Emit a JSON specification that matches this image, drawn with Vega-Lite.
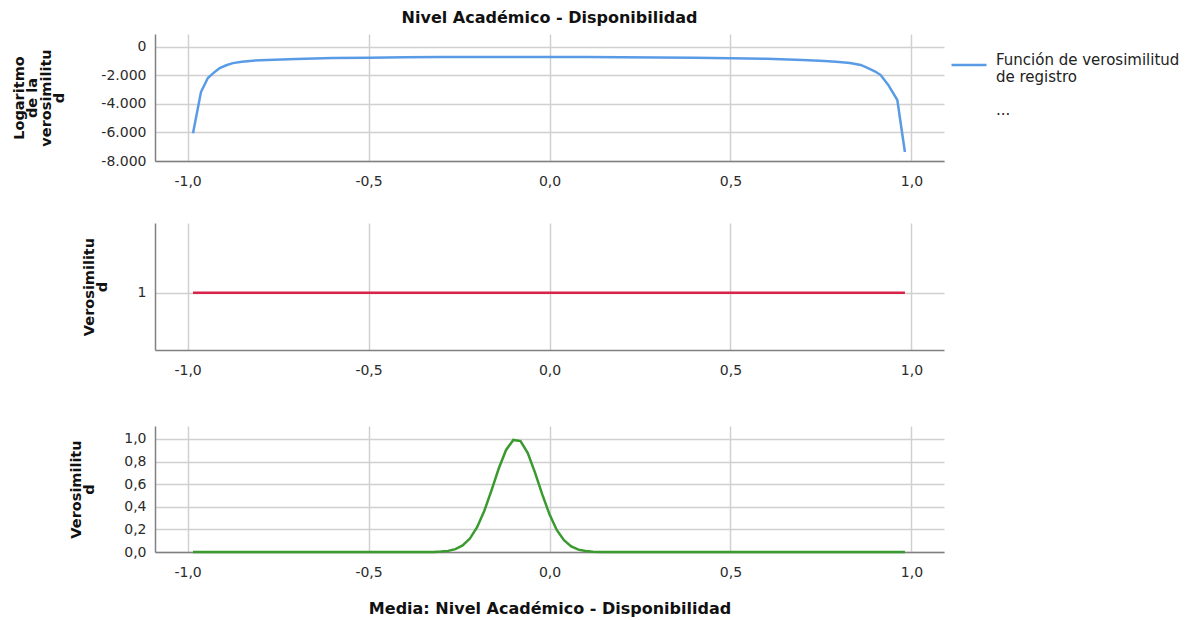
{
  "$schema": "https://vega.github.io/schema/vega-lite/v6.json",
  "padding": {"left": 5, "top": 10, "right": 3, "bottom": 3},
  "background": "white",
  "spacing": 35,
  "config": {
    "font": "DejaVu Sans",
    "view": {"stroke": null},
    "locale": {"number": {"decimal": ",", "thousands": ".", "grouping": [3], "currency": ["", " €"], "minus": "-"}},
    "axis": {
      "labelFont": "DejaVu Sans", "labelFontSize": 14, "labelColor": "#2b2b2b",
      "gridColor": "#d0d0d0", "gridWidth": 1.5, "domainColor": "#808080", "domainWidth": 1.5,
      "ticks": false, "tickSize": 0,
      "titleFont": "DejaVu Sans", "titleFontSize": 16, "titleFontWeight": "bold", "titleColor": "#111111"
    },
    "axisX": {"labelPadding": 13},
    "axisY": {"labelPadding": 9, "minExtent": 150, "titleFontSize": 14.5, "titleLineHeight": 13.5}
  },
  "vconcat": [
    {
      "width": 789, "height": 127,
      "title": {"text": "Nivel Académico - Disponibilidad", "frame": "group", "anchor": "middle", "font": "DejaVu Sans", "fontSize": 16, "fontWeight": "bold", "color": "#111111", "offset": 8},
      "data": {"values": [
        {"media": -0.985, "logver": -6050, "serie": "Función de verosimilitud de registro"},
        {"media": -0.963, "logver": -3160, "serie": "Función de verosimilitud de registro"},
        {"media": -0.944, "logver": -2180, "serie": "Función de verosimilitud de registro"},
        {"media": -0.925, "logver": -1750, "serie": "Función de verosimilitud de registro"},
        {"media": -0.911, "logver": -1480, "serie": "Función de verosimilitud de registro"},
        {"media": -0.893, "logver": -1280, "serie": "Función de verosimilitud de registro"},
        {"media": -0.875, "logver": -1130, "serie": "Función de verosimilitud de registro"},
        {"media": -0.85, "logver": -1030, "serie": "Función de verosimilitud de registro"},
        {"media": -0.82, "logver": -960, "serie": "Función de verosimilitud de registro"},
        {"media": -0.78, "logver": -910, "serie": "Función de verosimilitud de registro"},
        {"media": -0.7, "logver": -850, "serie": "Función de verosimilitud de registro"},
        {"media": -0.6, "logver": -780, "serie": "Función de verosimilitud de registro"},
        {"media": -0.5, "logver": -748, "serie": "Función de verosimilitud de registro"},
        {"media": -0.4, "logver": -726, "serie": "Función de verosimilitud de registro"},
        {"media": -0.3, "logver": -710, "serie": "Función de verosimilitud de registro"},
        {"media": -0.2, "logver": -700, "serie": "Función de verosimilitud de registro"},
        {"media": -0.1, "logver": -694, "serie": "Función de verosimilitud de registro"},
        {"media": 0.0, "logver": -696, "serie": "Función de verosimilitud de registro"},
        {"media": 0.1, "logver": -703, "serie": "Función de verosimilitud de registro"},
        {"media": 0.2, "logver": -714, "serie": "Función de verosimilitud de registro"},
        {"media": 0.3, "logver": -729, "serie": "Función de verosimilitud de registro"},
        {"media": 0.4, "logver": -752, "serie": "Función de verosimilitud de registro"},
        {"media": 0.5, "logver": -782, "serie": "Función de verosimilitud de registro"},
        {"media": 0.6, "logver": -832, "serie": "Función de verosimilitud de registro"},
        {"media": 0.7, "logver": -912, "serie": "Función de verosimilitud de registro"},
        {"media": 0.76, "logver": -985, "serie": "Función de verosimilitud de registro"},
        {"media": 0.8, "logver": -1050, "serie": "Función de verosimilitud de registro"},
        {"media": 0.83, "logver": -1120, "serie": "Función de verosimilitud de registro"},
        {"media": 0.86, "logver": -1260, "serie": "Función de verosimilitud de registro"},
        {"media": 0.88, "logver": -1480, "serie": "Función de verosimilitud de registro"},
        {"media": 0.9, "logver": -1720, "serie": "Función de verosimilitud de registro"},
        {"media": 0.915, "logver": -1970, "serie": "Función de verosimilitud de registro"},
        {"media": 0.936, "logver": -2660, "serie": "Función de verosimilitud de registro"},
        {"media": 0.961, "logver": -3720, "serie": "Función de verosimilitud de registro"},
        {"media": 0.982, "logver": -7370, "serie": "Función de verosimilitud de registro"}
      ]},
      "mark": {"type": "line", "strokeWidth": 2.5},
      "encoding": {
        "x": {"field": "media", "type": "quantitative", "scale": {"domain": [-1.09, 1.09], "nice": false, "zero": false},
              "axis": {"values": [-1, -0.5, 0, 0.5, 1], "format": ".1f", "title": null}},
        "y": {"field": "logver", "type": "quantitative", "scale": {"domain": [-8000, 912], "nice": false, "zero": false},
              "axis": {"values": [-8000, -6000, -4000, -2000, 0], "format": ",.0f",
                       "title": ["Logaritmo", "de la", "verosimilitu", "d"],
                       "titleAngle": 270, "titleBaseline": "bottom", "titleAlign": "center", "titleX": -129, "titleY": 63.5}},
        "color": {"field": "serie", "type": "nominal",
                  "scale": {"domain": ["Función de verosimilitud de registro", "..."], "range": ["#5a9be6", "transparent"]},
                  "legend": {"title": null, "orient": "none", "legendX": 795, "legendY": 12, "direction": "vertical", "padding": 0,
                             "symbolType": "stroke", "symbolSize": 1225, "symbolStrokeWidth": 2.5,
                             "labelFont": "DejaVu Sans", "labelFontSize": 15, "labelColor": "#222222", "labelLimit": 300,
                             "labelOffset": 8, "labelBaseline": "alphabetic", "rowPadding": 11,
                             "labelExpr": "datum.label == '...' ? '...' : ['Función de verosimilitud', 'de registro']"}}
      }
    },
    {
      "width": 789, "height": 127,
      "data": {"values": [
        {"media": -0.985, "ver": 1},
        {"media": -0.5, "ver": 1},
        {"media": 0.0, "ver": 1},
        {"media": 0.5, "ver": 1},
        {"media": 0.982, "ver": 1}
      ]},
      "mark": {"type": "line", "strokeWidth": 2.5, "color": "#d9234a"},
      "encoding": {
        "x": {"field": "media", "type": "quantitative", "scale": {"domain": [-1.09, 1.09], "nice": false, "zero": false},
              "axis": {"values": [-1, -0.5, 0, 0.5, 1], "format": ".1f", "title": null, "minExtent": 41}},
        "y": {"field": "ver", "type": "quantitative", "scale": {"domain": [0.55, 1.55], "nice": false, "zero": false},
              "axis": {"values": [1], "format": "d",
                       "title": ["Verosimilitu", "d"],
                       "titleAngle": 270, "titleBaseline": "bottom", "titleAlign": "center", "titleX": -59, "titleY": 63.5}}
      }
    },
    {
      "width": 789, "height": 126,
      "data": {"values": [
        {"media": -0.985, "ver": 0},
        {"media": -0.5, "ver": 0},
        {"media": -0.34, "ver": 0},
        {"media": -0.32, "ver": 0.001},
        {"media": -0.3, "ver": 0.004},
        {"media": -0.28, "ver": 0.01},
        {"media": -0.26, "ver": 0.025},
        {"media": -0.24, "ver": 0.058},
        {"media": -0.22, "ver": 0.119},
        {"media": -0.2, "ver": 0.219},
        {"media": -0.18, "ver": 0.365},
        {"media": -0.16, "ver": 0.548},
        {"media": -0.14, "ver": 0.741},
        {"media": -0.12, "ver": 0.903},
        {"media": -0.1, "ver": 0.992},
        {"media": -0.08, "ver": 0.981},
        {"media": -0.06, "ver": 0.875},
        {"media": -0.04, "ver": 0.703},
        {"media": -0.02, "ver": 0.51},
        {"media": 0.0, "ver": 0.333},
        {"media": 0.02, "ver": 0.195},
        {"media": 0.04, "ver": 0.104},
        {"media": 0.06, "ver": 0.05},
        {"media": 0.08, "ver": 0.021},
        {"media": 0.1, "ver": 0.008},
        {"media": 0.12, "ver": 0.0026},
        {"media": 0.14, "ver": 0.0008},
        {"media": 0.16, "ver": 0},
        {"media": 0.5, "ver": 0},
        {"media": 0.982, "ver": 0}
      ]},
      "mark": {"type": "line", "strokeWidth": 2.5, "color": "#3a9a2f"},
      "encoding": {
        "x": {"field": "media", "type": "quantitative", "scale": {"domain": [-1.09, 1.09], "nice": false, "zero": false},
              "axis": {"values": [-1, -0.5, 0, 0.5, 1], "format": ".1f", "title": "Media: Nivel Académico - Disponibilidad", "titlePadding": 21}},
        "y": {"field": "ver", "type": "quantitative", "scale": {"domain": [0, 1.115], "nice": false, "zero": false},
              "axis": {"values": [0, 0.2, 0.4, 0.6, 0.8, 1.0], "format": ".1f",
                       "title": ["Verosimilitu", "d"],
                       "titleAngle": 270, "titleBaseline": "bottom", "titleAlign": "center", "titleX": -72, "titleY": 63}}
      }
    }
  ]
}
